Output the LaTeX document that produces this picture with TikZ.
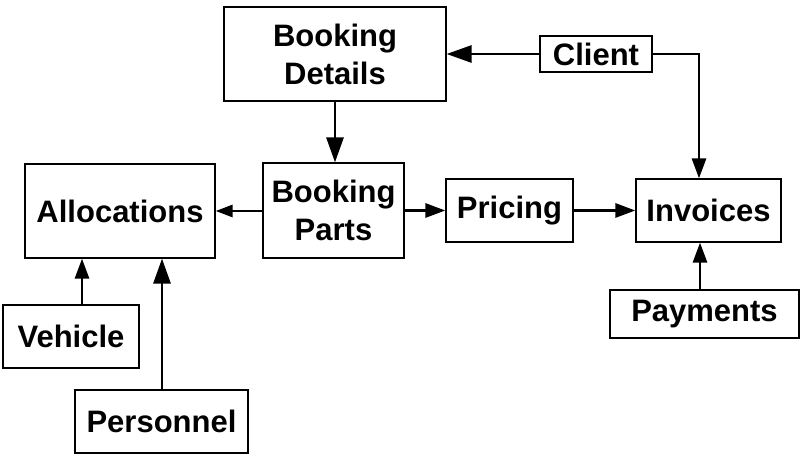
\documentclass[tikz,border=0pt]{standalone}
\usepackage{fontspec}
\setmainfont{Liberation Sans}
\usetikzlibrary{arrows.meta}
\begin{document}
\begin{tikzpicture}[x=1pt,y=1pt,
  box/.style={draw=black, line width=1.2pt, fill=white, inner sep=0pt, align=center,
    font=\fontsize{31}{38}\selectfont\bfseries},
  conn/.style={line width=2.8pt, -{Triangle[length=20pt,width=14pt]}},
  bigconn/.style={line width=2.8pt, -{Triangle[length=25pt,width=17pt]}},
  smallconn/.style={line width=2.8pt, -{Triangle[length=17pt,width=12pt]}}]
\useasboundingbox (0,0) rectangle (801,-462);
\node[box, minimum width=222pt, minimum height=94pt] (bd) at (335,-54) {Booking\\Details};
\node[box, minimum width=112pt, minimum height=36pt] (client) at (596,-54) {Client};
\node[box, minimum width=141pt, minimum height=95pt] (bp) at (333.5,-210.5) {Booking\\Parts};
\node[box, minimum width=190pt, minimum height=94pt] (alloc) at (120,-211) {Allocations};
\node[box, minimum width=127pt, minimum height=63pt] (pricing) at (509.5,-210.5) {Pricing};
\node[box, minimum width=145pt, minimum height=63pt] (inv) at (708.5,-210.5) {Invoices};
\node[box, minimum width=189pt, minimum height=48pt] (pay) at (704.5,-314) {Payments};
\node[box, minimum width=136pt, minimum height=63pt] (veh) at (71,-336.5) {Vehicle};
\node[box, minimum width=173pt, minimum height=63pt] (pers) at (161.5,-421.5) {Personnel};
\coordinate (cturn) at (699,-54);
\coordinate (vx) at (82,0);
\coordinate (px) at (162,0);
\coordinate (payx) at (700,0);
\draw[bigconn] (bd.south) -- (bd.south |- bp.north);
\draw[bigconn] (client.west) -- (bd.east);
\draw[conn] (client.east) -- (cturn) -- (cturn |- inv.north);
\draw[smallconn] (bp.west |- alloc.east) -- (alloc.east);
\draw[conn] (bp.east |- pricing.west) -- (pricing.west);
\draw[conn] (pricing.east) -- (inv.west);
\draw[conn] (payx |- pay.north) -- (payx |- inv.south);
\draw[conn] (vx |- veh.north) -- (vx |- alloc.south);
\draw[bigconn] (px |- pers.north) -- (px |- alloc.south);
\end{tikzpicture}
\end{document}
